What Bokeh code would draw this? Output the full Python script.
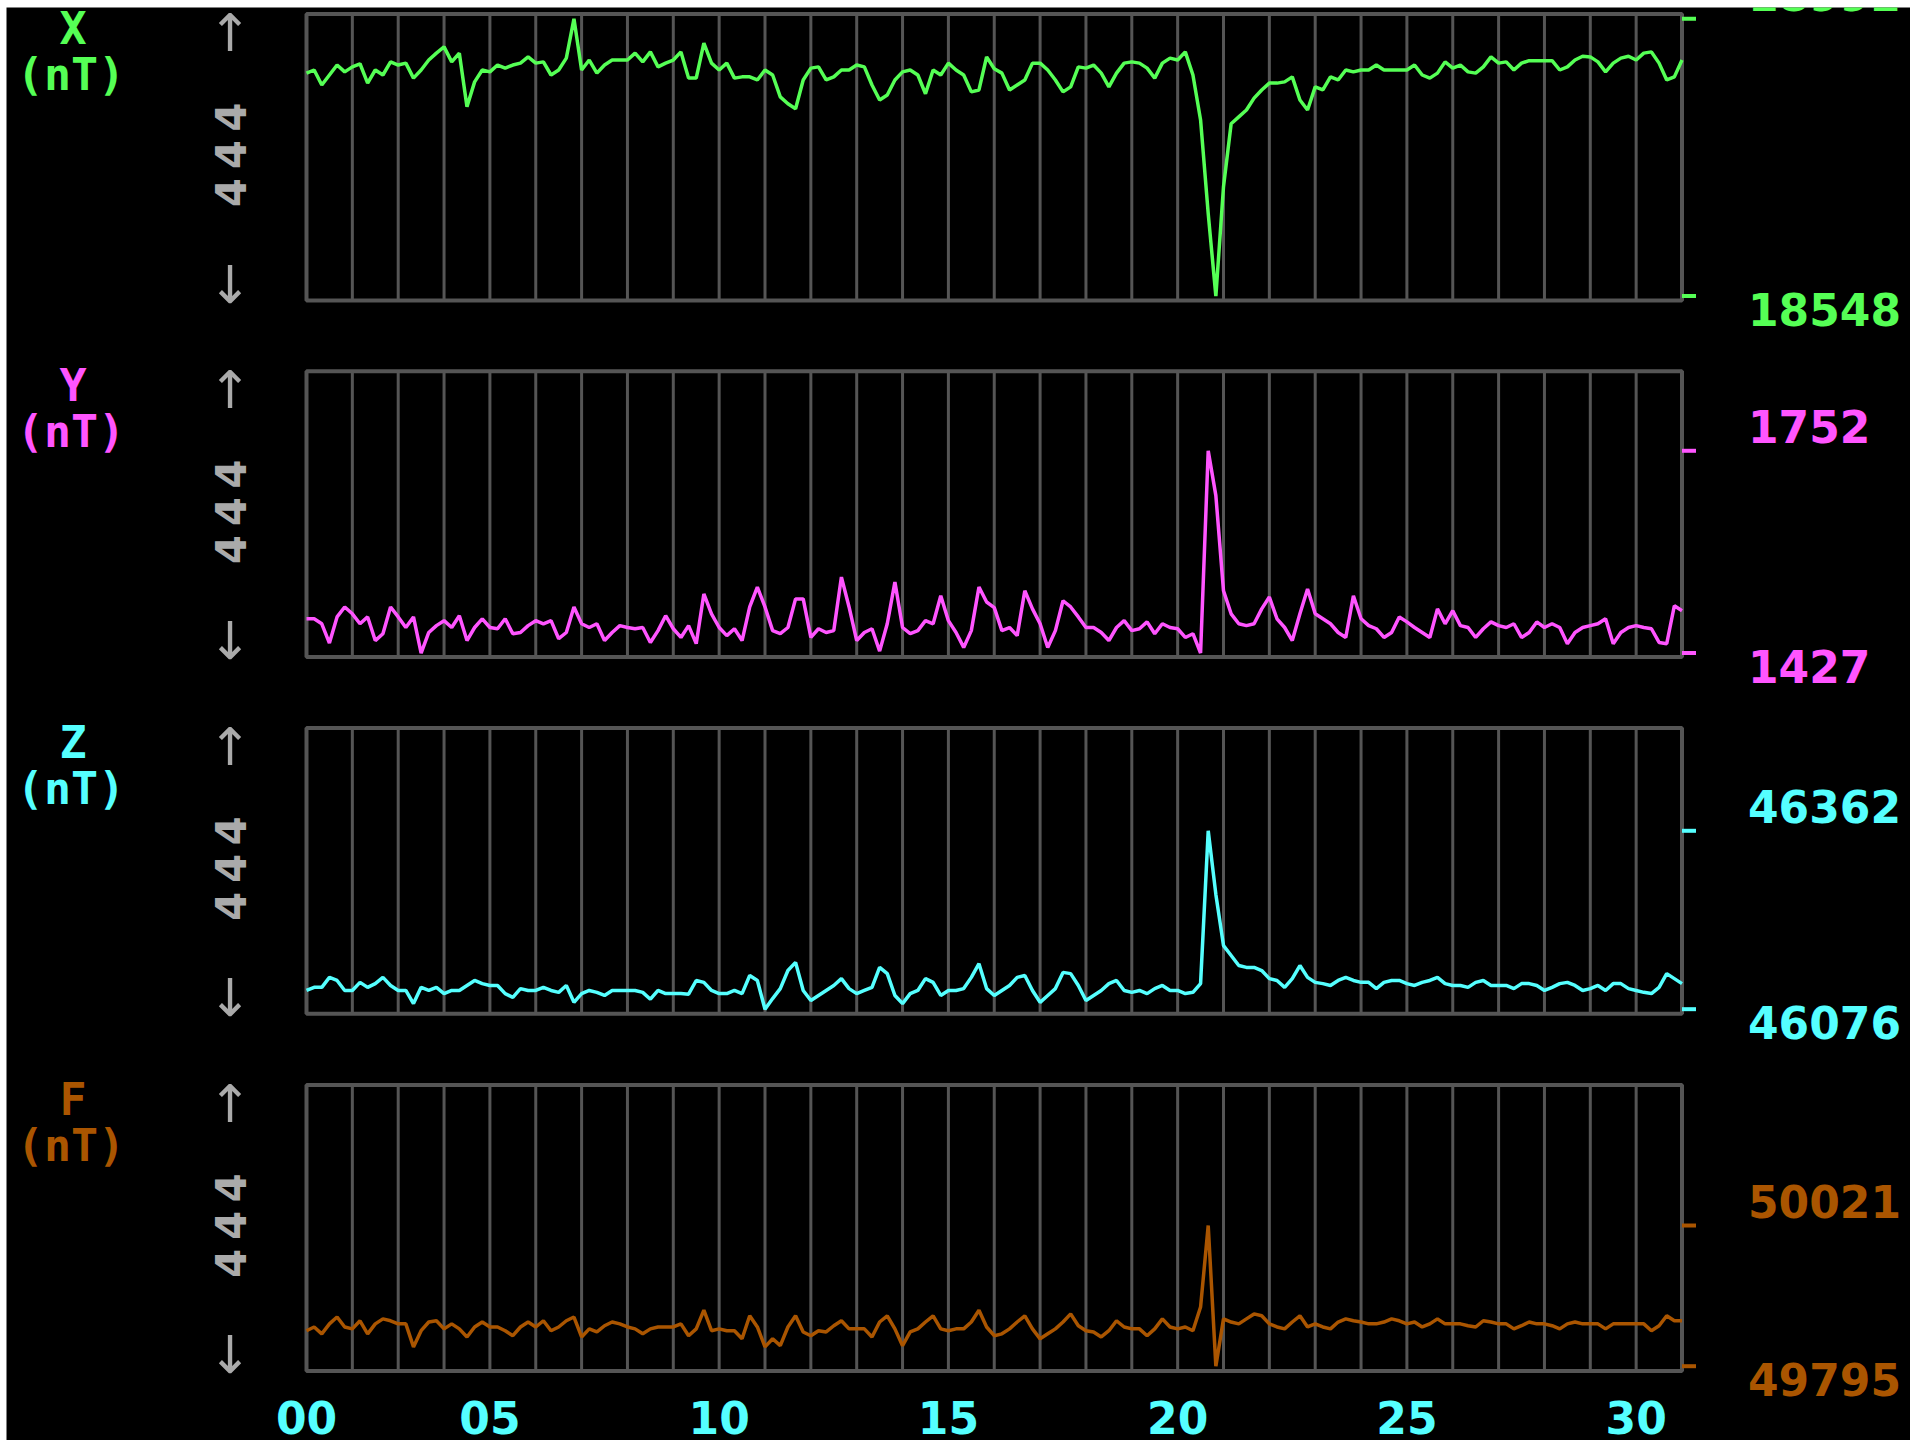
from math import pi

from bokeh.core.properties import value
from bokeh.embed import file_html
from bokeh.models import Range1d
from bokeh.plotting import figure
from bokeh.resources import INLINE

# ---------------------------------------------------------------------------
# Monthly magnetogram: X, Y, Z and F components (nT), six samples per day,
# days 1..31 of the month.
# ---------------------------------------------------------------------------
SAMPLES_PER_DAY = 6
t = [d + k / SAMPLES_PER_DAY for d in range(1, 31) for k in range(SAMPLES_PER_DAY)] + [31]

x_nt = [
    18905, 18910, 18886, 18902, 18918, 18907,
    18915, 18920, 18889, 18910, 18902, 18923,
    18918, 18921, 18897, 18910, 18926, 18937,
    18947, 18923, 18937, 18851, 18891, 18910,
    18907, 18918, 18913, 18918, 18921, 18931,
    18921, 18923, 18902, 18910, 18929, 18992,
    18910, 18926, 18905, 18918, 18926, 18926,
    18926, 18937, 18923, 18939, 18915, 18921,
    18926, 18939, 18897, 18897, 18953, 18921,
    18910, 18921, 18897, 18899, 18899, 18894,
    18910, 18902, 18867, 18856, 18848, 18894,
    18913, 18915, 18894, 18899, 18910, 18910,
    18918, 18915, 18886, 18862, 18870, 18894,
    18907, 18910, 18902, 18872, 18910, 18902,
    18921, 18910, 18902, 18875, 18878, 18931,
    18912, 18905, 18878, 18886, 18894, 18921,
    18921, 18910, 18894, 18875, 18883, 18915,
    18913, 18918, 18905, 18883, 18905, 18921,
    18923, 18921, 18913, 18897, 18921, 18929,
    18926, 18939, 18902, 18830, 18680, 18548,
    18723, 18824, 18835, 18846, 18865, 18878,
    18889, 18889, 18891, 18899, 18862, 18846,
    18883, 18878, 18899, 18894, 18910, 18907,
    18910, 18910, 18918, 18910, 18910, 18910,
    18910, 18918, 18902, 18897, 18905, 18923,
    18913, 18918, 18907, 18905, 18915, 18931,
    18921, 18923, 18910, 18921, 18925, 18925,
    18925, 18925, 18910, 18915, 18926, 18932,
    18931, 18923, 18907, 18921, 18929, 18932,
    18926, 18937, 18939, 18921, 18894, 18899,
    18926,
]

y_nt = [
    1482, 1482, 1474, 1443, 1485, 1501,
    1490, 1474, 1485, 1447, 1458, 1501,
    1485, 1468, 1485, 1427, 1460, 1471,
    1479, 1468, 1487, 1447, 1468, 1482,
    1468, 1466, 1482, 1458, 1460, 1471,
    1479, 1474, 1479, 1450, 1460, 1501,
    1474, 1468, 1474, 1447, 1460, 1471,
    1468, 1466, 1468, 1444, 1463, 1487,
    1466, 1452, 1471, 1442, 1522, 1490,
    1468, 1455, 1466, 1447, 1501, 1533,
    1501, 1463, 1458, 1468, 1514, 1514,
    1452, 1466, 1460, 1463, 1549, 1501,
    1447, 1460, 1466, 1430, 1474, 1541,
    1468, 1458, 1463, 1479, 1474, 1519,
    1479, 1460, 1436, 1463, 1533, 1509,
    1500, 1463, 1468, 1455, 1527, 1498,
    1474, 1436, 1463, 1511, 1501, 1485,
    1468, 1468, 1460, 1447, 1468, 1479,
    1463, 1466, 1477, 1458, 1474, 1468,
    1466, 1452, 1458, 1427, 1752, 1680,
    1527, 1490, 1474, 1471, 1474, 1498,
    1517, 1482, 1468, 1447, 1490, 1530,
    1490, 1482, 1474, 1460, 1452, 1519,
    1482, 1471, 1466, 1452, 1460, 1485,
    1477, 1468, 1460, 1452, 1498, 1474,
    1495, 1471, 1468, 1452, 1466, 1477,
    1471, 1468, 1474, 1452, 1460, 1477,
    1468, 1474, 1468, 1442, 1460, 1468,
    1471, 1474, 1482, 1442, 1460, 1468,
    1471, 1468, 1466, 1444, 1442, 1503,
    1495,
]

z_nt = [
    46106, 46111, 46111, 46127, 46122, 46106,
    46106, 46119, 46111, 46117, 46127, 46114,
    46106, 46106, 46085, 46111, 46106, 46111,
    46101, 46106, 46106, 46114, 46122, 46117,
    46114, 46114, 46101, 46095, 46109, 46106,
    46106, 46111, 46106, 46103, 46114, 46087,
    46101, 46106, 46103, 46098, 46106, 46106,
    46106, 46106, 46103, 46092, 46106, 46101,
    46101, 46101, 46100, 46122, 46119, 46106,
    46101, 46101, 46106, 46101, 46130, 46122,
    46076, 46093, 46109, 46138, 46151, 46106,
    46090, 46098, 46106, 46114, 46125, 46109,
    46101, 46106, 46111, 46143, 46133, 46098,
    46085, 46101, 46106, 46125, 46119, 46098,
    46106, 46106, 46109, 46127, 46149, 46109,
    46098, 46106, 46114, 46127, 46130, 46106,
    46087, 46098, 46109, 46135, 46133, 46114,
    46090, 46098, 46106, 46117, 46122, 46106,
    46103, 46106, 46101, 46109, 46114, 46106,
    46106, 46101, 46103, 46117, 46362, 46260,
    46178, 46162, 46146, 46143, 46143, 46138,
    46125, 46122, 46111, 46125, 46146, 46127,
    46119, 46117, 46114, 46122, 46127, 46122,
    46119, 46119, 46109, 46119, 46122, 46122,
    46117, 46114, 46119, 46122, 46127, 46117,
    46114, 46114, 46111, 46119, 46122, 46114,
    46114, 46114, 46109, 46117, 46117, 46114,
    46106, 46111, 46117, 46119, 46114, 46106,
    46109, 46114, 46106, 46117, 46117, 46109,
    46106, 46103, 46101, 46111, 46133, 46125,
    46117,
]

f_nt = [
    49852, 49858, 49847, 49863, 49874, 49858,
    49855, 49868, 49847, 49863, 49871, 49868,
    49863, 49863, 49826, 49852, 49866, 49868,
    49855, 49863, 49855, 49842, 49858, 49866,
    49858, 49858, 49852, 49844, 49858, 49866,
    49858, 49868, 49852, 49858, 49868, 49874,
    49842, 49855, 49850, 49860, 49866, 49863,
    49858, 49855, 49847, 49855, 49858, 49858,
    49858, 49863, 49844, 49855, 49885, 49852,
    49855, 49852, 49852, 49839, 49876, 49858,
    49826, 49839, 49828, 49858, 49876, 49850,
    49844, 49852, 49850, 49860, 49868, 49855,
    49855, 49855, 49842, 49866, 49876, 49855,
    49828, 49850, 49855, 49866, 49876, 49855,
    49852, 49855, 49855, 49866, 49885, 49858,
    49844, 49847, 49855, 49866, 49876, 49855,
    49839, 49847, 49855, 49866, 49879, 49860,
    49852, 49850, 49842, 49852, 49868, 49858,
    49855, 49855, 49844, 49855, 49871, 49858,
    49855, 49858, 49852, 49890, 50021, 49795,
    49871, 49866, 49863, 49871, 49879, 49876,
    49863, 49858, 49855, 49866, 49876, 49858,
    49863, 49858, 49855, 49866, 49871, 49868,
    49866, 49863, 49863, 49866, 49871, 49868,
    49863, 49866, 49858, 49863, 49871, 49863,
    49863, 49863, 49860, 49858, 49868, 49866,
    49863, 49863, 49855, 49860, 49866, 49863,
    49863, 49860, 49855, 49863, 49866, 49863,
    49863, 49863, 49855, 49863, 49863, 49863,
    49863, 49863, 49852, 49860, 49876, 49868,
    49868,
]

# Extremes printed at the right edge of each panel (nT)
x_extremes = [18548, 18992]
y_extremes = [1427, 1752]
z_extremes = [46076, 46362]
f_extremes = [49795, 50021]

components = ["X", "Y", "Z", "F"]
unit = "(nT)"
full_scale = "444"
grid_days = list(range(2, 31))
day_ticks = [1, 5, 10, 15, 20, 25, 30]
day_labels = ["00", "05", "10", "15", "20", "25", "30"]

# EGA-style palette
GREEN, MAGENTA, CYAN, BROWN = "#55FF55", "#FF55FF", "#55FFFF", "#AA5500"
FRAME, ARROW = "#555555", "#AAAAAA"
MONO = value("DejaVu Sans Mono")
SANS = value("DejaVu Sans")

# ---------------------------------------------------------------------------
# Layout: one canvas holding four stacked panels.  Each panel has its own
# nT range; the frame edges are given in canvas pixels from the top.
# ---------------------------------------------------------------------------
W, H = 1904, 1433
DAY0, DAY1 = 1, 31
FRAME_LEFT, FRAME_RIGHT = 300.0, 1675.5          # canvas px of day 1 / day 31
LIFT = -17                                       # baseline correction for texts

panels = [
    # name, series, extremes, colour, frame value range, frame top/bottom px
    ("X", x_nt, x_extremes, GREEN, (18540.8, 18999.7), (6.5, 293.0)),
    ("Y", y_nt, y_extremes, MAGENTA, (1420.6, 1879.9), (363.7, 649.5)),
    ("Z", z_nt, z_extremes, CYAN, (46068.6, 46526.8), (720.5, 1006.3)),
    ("F", f_nt, f_extremes, BROWN, (49787.3, 50246.7), (1077.5, 1363.5)),
]

sx = (FRAME_RIGHT - FRAME_LEFT) / (DAY1 - DAY0)
p = figure(
    width=W, height=H, title=None,
    x_range=Range1d(DAY0 - FRAME_LEFT / sx, DAY1 + (W - FRAME_RIGHT) / sx),
    y_range=Range1d(0, 1),
    x_axis_type=None, y_axis_type=None,
    output_backend="svg", toolbar_location=None,
    background_fill_color="black", border_fill_color="black",
    min_border=0, outline_line_color=None,
    margin=(7, 0, 0, 6),
)
p.grid.visible = False

for (name, series, (lo_v, hi_v), color, (lo, hi), (top_px, bot_px)) in panels:
    s = (bot_px - top_px) / (hi - lo)
    p.extra_y_ranges[name] = Range1d(lo - (H - bot_px) / s, hi + top_px / s)
    yr = dict(y_range_name=name)

    # frame and daily grid lines
    p.segment(x0=grid_days, x1=grid_days, y0=[lo] * len(grid_days),
              y1=[hi] * len(grid_days), line_color=FRAME, line_width=3, **yr)
    p.quad(left=[DAY0], right=[DAY1], bottom=[lo], top=[hi],
           fill_color=None, line_color=FRAME, line_width=4, **yr)

    # trace
    p.line(t, series, line_color=color, line_width=3.5, **yr)

    # coloured tick marks at the minimum and maximum
    p.ray(x=[DAY1, DAY1], y=[lo_v, hi_v], length=14, length_units="screen",
          angle=0, line_color=color, line_width=4, **yr)

    big = dict(text_font=SANS, text_font_style="bold", text_font_size=value("44px"),
               text_color=color, text_baseline="alphabetic", **yr)
    p.text(x=[DAY1], y=[hi_v], text=[str(hi_v)], x_offset=66, y_offset=-7 + LIFT,
           text_align="left", **big)
    p.text(x=[DAY1], y=[lo_v], text=[str(lo_v)], x_offset=66, y_offset=30 + LIFT,
           text_align="left", **big)

    # component name and unit
    mono = dict(text_font=MONO, text_font_style="bold", text_font_size=value("45px"),
                text_color=color, text_baseline="alphabetic", text_align="center", **yr)
    p.text(x=[DAY0], y=[hi], text=[name], x_offset=-233.5, y_offset=31.5 + LIFT, **mono)
    p.text(x=[DAY0], y=[hi], text=[unit], x_offset=-235.5, y_offset=77.5 + LIFT, **mono)

    # full-scale marker between two arrows
    arrow = dict(text_font=SANS, text_font_size=value("52px"), text_color=ARROW,
                 text_align="center", text_baseline="alphabetic", **yr)
    p.text(x=[DAY0], y=[hi], text=["\u2191"], x_offset=-76.5, y_offset=19, **arrow)
    p.text(x=[DAY0], y=[lo], text=["\u2193"], x_offset=-76.5, y_offset=-16, **arrow)
    mid = (lo + hi) / 2
    p.text(x=[DAY0] * len(full_scale), y=[mid] * len(full_scale), text=list(full_scale),
           x_offset=-76.5, y_offset=[-40, -2.5, 35.5], angle=pi / 2,
           text_font=SANS, text_font_style="bold", text_font_size=value("42px"),
           text_color=ARROW, text_align="center", text_baseline="middle", **yr)

# day-of-month labels under the last panel
p.text(x=day_ticks, y=[panels[-1][4][0]] * len(day_ticks), text=day_labels,
       x_offset=0, y_offset=63 + LIFT, y_range_name="F",
       text_font=SANS, text_font_style="bold", text_font_size=value("44px"),
       text_color=CYAN, text_align="center", text_baseline="alphabetic")

open("out.html", "w").write(file_html(p, INLINE, title="Magnetogram"))
